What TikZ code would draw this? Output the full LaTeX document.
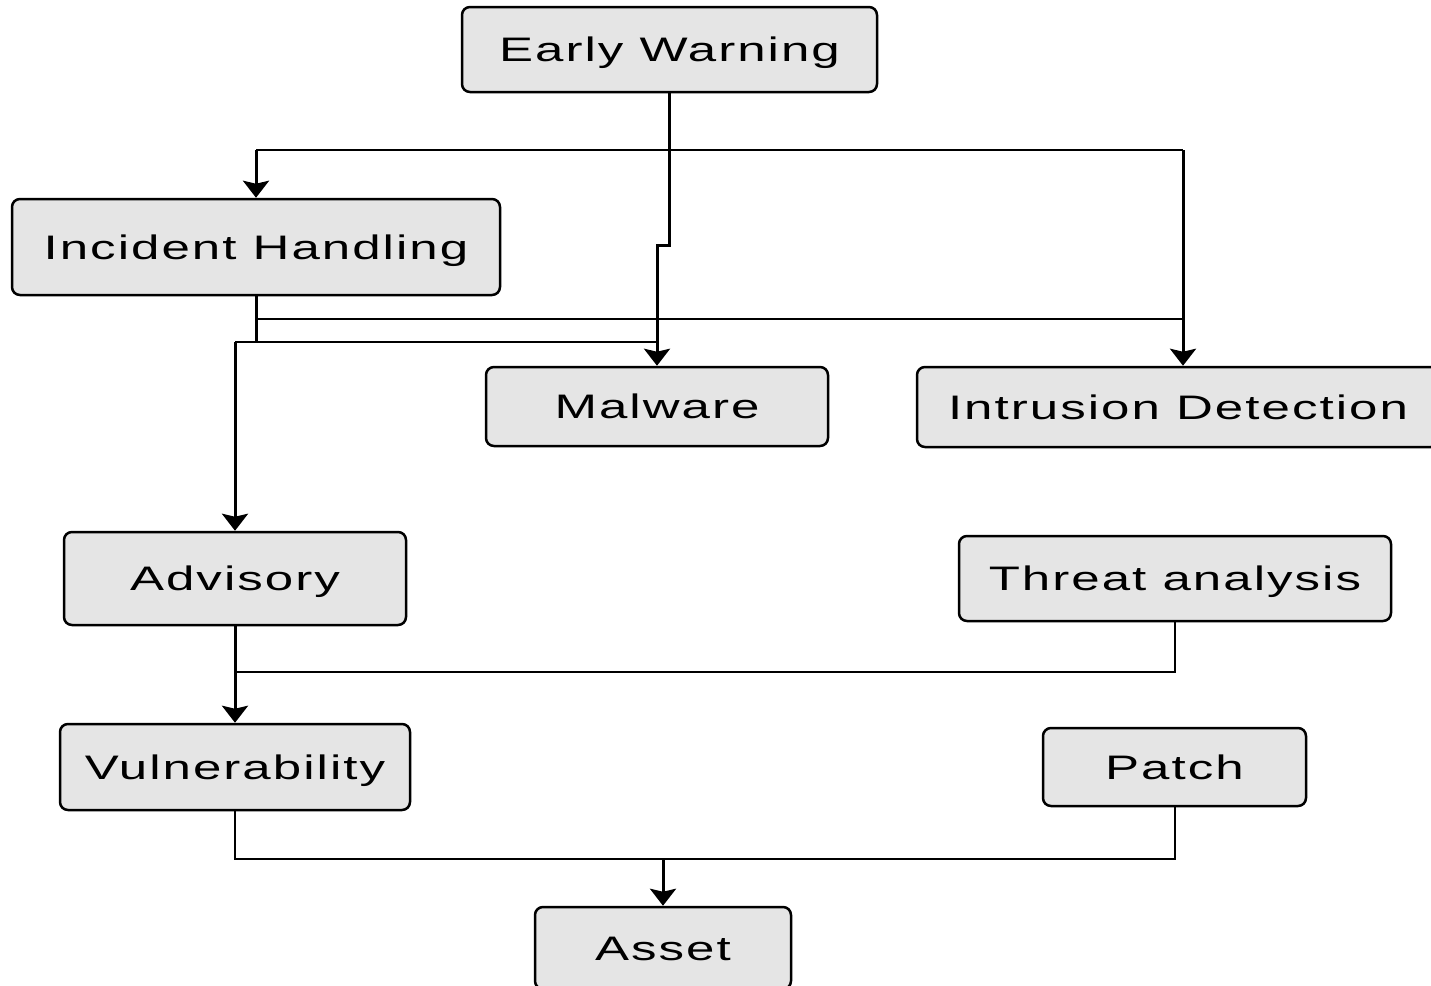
\documentclass[tikz,border=0pt]{standalone}
\usepackage{fontspec}
\setmainfont[FakeStretch=1.5,LetterSpace=6]{Liberation Sans}
\usetikzlibrary{arrows.meta}

\begin{document}
\begin{tikzpicture}[x=1pt,y=-1pt,every node/.style={draw=black,fill=gray!20,rounded corners=8pt,line width=2.5pt,inner sep=0pt,text height=24pt,text depth=0pt,font=\fontsize{34}{40}\selectfont},line width=2pt,>={Stealth[length=17pt,width=26pt,inset=3pt]}]
\useasboundingbox (0,0) rectangle (1431,985);
\node[minimum width=415pt,minimum height=85pt] (ew) at (669.5,49.5) {Early Warning};
\node[minimum width=488pt,minimum height=96pt] (ih) at (256,247) {Incident Handling};
\node[minimum width=342pt,minimum height=79pt] (mal) at (657,406.5) {Malware};
\node[minimum width=522pt,minimum height=80pt] (id) at (1178,407) {Intrusion Detection};
\node[minimum width=342pt,minimum height=93pt] (adv) at (235,578.5) {Advisory};
\node[minimum width=432pt,minimum height=85pt] (ta) at (1175,578.5) {Threat analysis};
\node[minimum width=350pt,minimum height=86pt] (vul) at (235,767) {Vulnerability};
\node[minimum width=263pt,minimum height=78pt] (pat) at (1174.5,767) {Patch};
\node[minimum width=256pt,minimum height=82pt] (as) at (663,948) {Asset};
\coordinate (idin) at ([xshift=5pt]id.north);
\coordinate (bus1) at (0,150);
\coordinate (bus2) at (0,319);
\coordinate (bus3) at (0,342);
\coordinate (bus4) at (0,672);
\coordinate (bus5) at (0,859);
% early warning
\draw[->,line width=3pt] (ew.south) -- (669.5,245) -- (657,245) -- (mal.north);
\draw (bus1 -| ih.north) -- (bus1 -| idin);
\draw[->,line width=3pt] (bus1 -| ih.north) -- (ih.north);
\draw[->,line width=3pt] (bus1 -| idin) -- (idin);
% incident handling
\draw[line width=3pt] (ih.south) -- (ih.south |- bus3);
\draw (ih.south |- bus2) -- (bus2 -| idin);
\draw (adv.north |- bus3) -- (bus3 -| mal.north);
\draw[->,line width=3pt] (adv.north |- bus3) -- (adv.north);
% advisory and threat analysis
\draw (ta.south) -- (ta.south |- bus4) -- (bus4 -| adv.south);
\draw[->,line width=3pt] (adv.south) -- (vul.north);
% vulnerability and patch
\draw (vul.south) -- (vul.south |- bus5) -- (bus5 -| pat.south) -- (pat.south);
\draw[->,line width=3pt] (bus5 -| as.north) -- (as.north);
\end{tikzpicture}
\end{document}
